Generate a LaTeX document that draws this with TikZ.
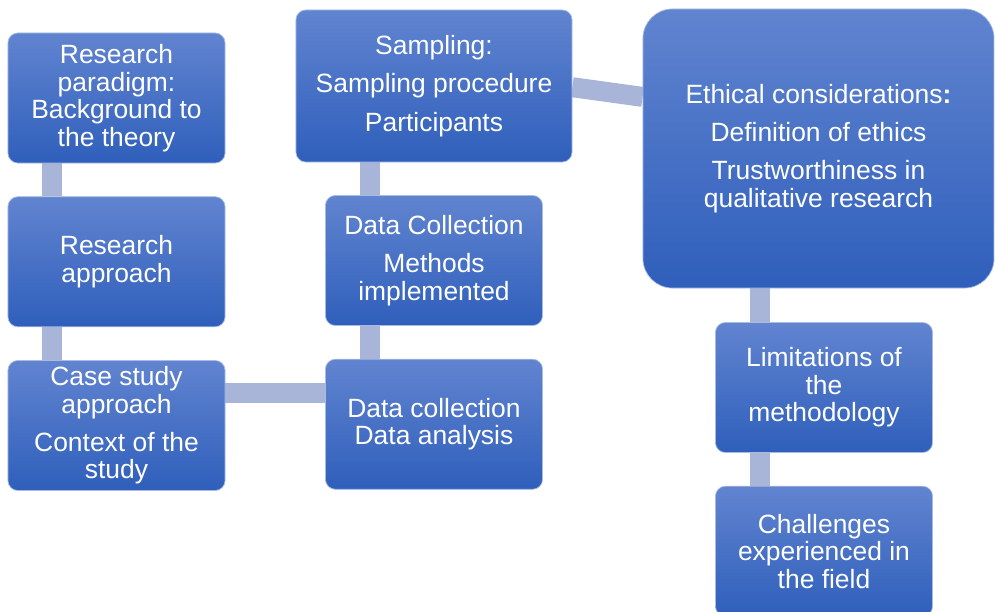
\documentclass[tikz,border=0pt]{standalone}
\usepackage{fontspec}
\setmainfont{Liberation Sans}
\usetikzlibrary{positioning, backgrounds}
\definecolor{boxtop}{RGB}{97,132,208}
\definecolor{boxbottom}{RGB}{47,95,187}
\definecolor{linkcol}{RGB}{168,180,216}

\begin{document}
\begin{tikzpicture}[x=0.025cm, y=-0.025cm,
        box/.style={rectangle, rounded corners=7pt, top color=boxtop, bottom color=boxbottom, draw=boxtop!55!white, line width=0.5pt, text=white, align=center, inner sep=0pt, font=\fontsize{18.8}{19.6}\selectfont},
        smallbox/.style={box, minimum width=5.425cm, minimum height=3.25cm},
        link/.style={line width=14.2pt, draw=linkcol}]
        \useasboundingbox (0,0) rectangle (995,612);
        \node[smallbox] (Paradigm) at (116.5,98) {Research\\paradigm:\\Background to\\the theory};
        \node[smallbox, below=0.825cm of Paradigm] (Approach) {Research\\approach};
        \node[smallbox, below=0.825cm of Approach] (CaseStudy) {Case study\\approach\\[7.5pt]Context of the\\study};
        \node[box, minimum width=6.9cm, minimum height=3.8cm] (Sampling) at (434,86) {Sampling:\\[8pt]Sampling procedure\\[8pt]Participants};
        \node[smallbox] (Collection) at (434,260.5) {Data Collection\\[7.5pt]Methods\\implemented};
        \node[smallbox, below=0.825cm of Collection] (Analysis) {Data collection\\Data analysis};
        \node[box, rounded corners=21pt, minimum width=8.775cm, minimum height=6.975cm] (Ethics) at (818.5,148.5) {Ethical considerations\textbf{:}\\[7.5pt]Definition of ethics\\[7.5pt]Trustworthiness in\\qualitative research};
        \node[smallbox] (Limitations) at (824,387.5) {Limitations of\\the\\methodology};
        \node[smallbox, below=0.825cm of Limitations] (Challenges) {Challenges\\experienced in\\the field};
        \begin{scope}[on background layer]
            \draw[link] ([xshift=-1.6125cm] Paradigm.south) -- ([xshift=-1.6125cm] Approach.north);
            \draw[link] ([xshift=-1.6125cm] Approach.south) -- ([xshift=-1.6125cm] CaseStudy.north);
            \draw[link] ([yshift=0.82cm] CaseStudy.east) -- ([yshift=0.82cm] CaseStudy.east -| Analysis.west);
            \draw[link] ([xshift=-1.6cm] Analysis.north) -- ([xshift=-1.6cm] Collection.south);
            \draw[link] ([xshift=-1.6cm] Collection.north) -- ([xshift=-1.6cm] Sampling.south);
            \draw[link] ([yshift=-0.03cm] Sampling.east) -- ([yshift=1.29cm] Ethics.west);
            \draw[link] ([xshift=-1.6cm] Limitations.north) -- ([xshift=-1.6cm] Limitations.north |- Ethics.south);
            \draw[link] ([xshift=-1.6cm] Limitations.south) -- ([xshift=-1.6cm] Challenges.north);
        \end{scope}
    \end{tikzpicture}
\end{document}
